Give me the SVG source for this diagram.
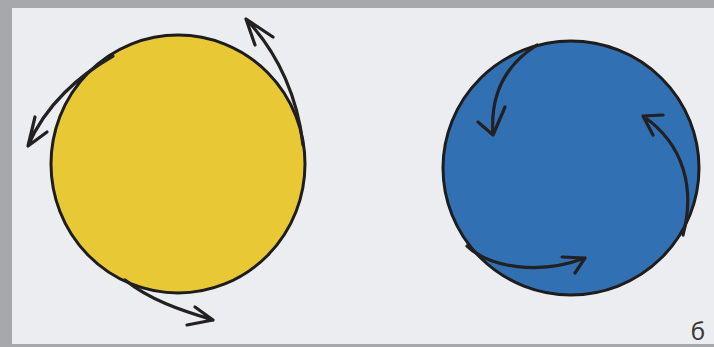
<svg xmlns="http://www.w3.org/2000/svg" width="714" height="347" viewBox="0 0 714 347">
<style>
.bg{fill:#a7a8ac}
.panel{fill:#ecedf1}
.circ{stroke:#1e1c1c;stroke-width:3}
.arr{fill:none;stroke:#222020;stroke-width:3.2;stroke-linecap:round;stroke-linejoin:round}
.lbl{font-family:"Noto Sans","DejaVu Sans",sans-serif;font-size:24px;fill:#3a3a3a}
</style>
<rect class="bg" x="0" y="0" width="714" height="347"/>
<rect class="panel" x="12" y="8" width="702" height="336"/>
<g id="yellow">
<ellipse class="circ" cx="178" cy="164" rx="127" ry="129" fill="#e8c935"/>
</g>
<g id="blue">
<ellipse class="circ" cx="571" cy="168" rx="128" ry="127" fill="#3270b4"/>
</g>
<g id="connectors">
<path class="arr" d="M303,145 C298,100 280,55 246,19 M255,45 L246,19 L273,37"/>
<path class="arr" d="M113,56 C80,75 45,105 28,146 M35,117 L28,146 L47,132"/>
<path class="arr" d="M125,280 C150,300 180,310 213,320 M195,307 L213,320 L187,325"/>
<path class="arr" d="M537,45 C505,65 490,95 493,135 M478,122 L493,135 L505,107"/>
<path class="arr" d="M683,235 C695,190 685,145 643,116 M663,115 L643,116 L653,135"/>
<path class="arr" d="M467,246 C490,268 540,275 585,258 M562,257 L585,258 L575,273"/>
</g>
<text class="lbl" x="698" y="340" text-anchor="middle">б</text>
</svg>
